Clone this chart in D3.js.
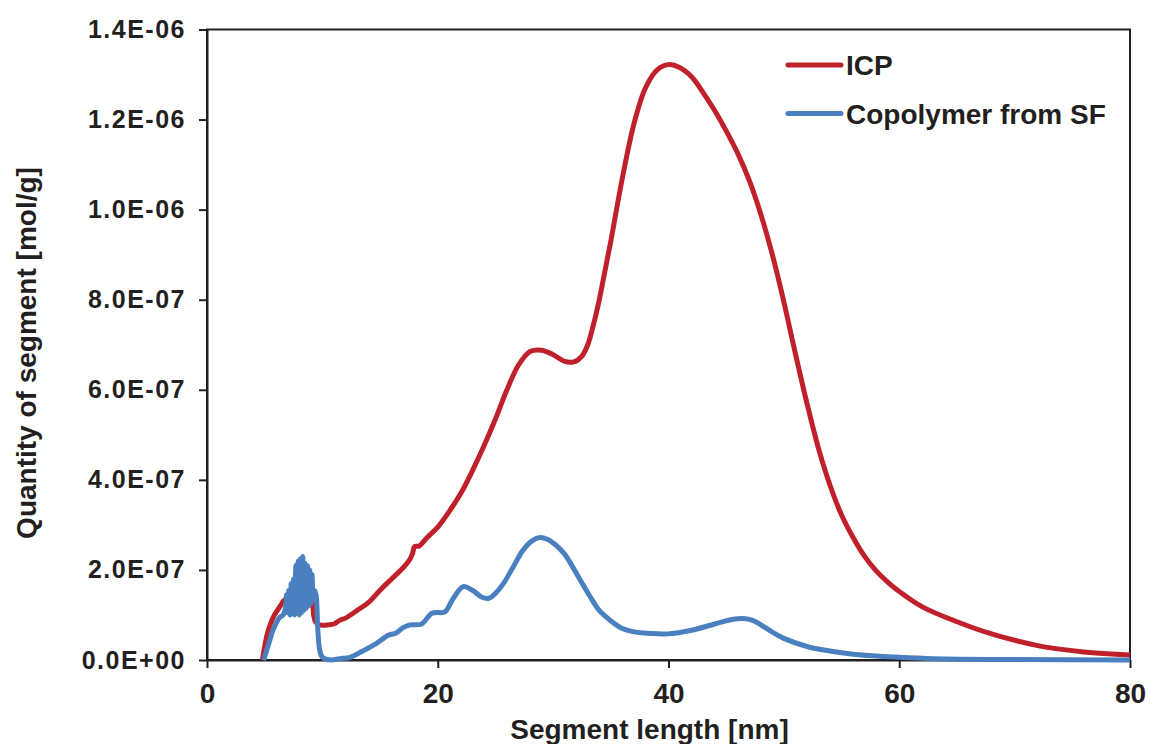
<!DOCTYPE html>
<html>
<head>
<meta charset="utf-8">
<script src="https://cdn.jsdelivr.net/npm/d3@7"></script>
<style>
  body { margin: 0; background: #fff; }
  text { font-family: "Liberation Sans", Arial, sans-serif; font-weight: bold; fill: #231f20; }
</style>
</head>
<body>
<script>
// Values, y in units of 1E-07 mol/g
const UNIT = 1e-7;

const icpLength = [4.8, 5.0, 5.2, 5.5, 5.8, 6.1, 6.4, 6.6, 6.8, 7.0, 7.2, 7.4, 7.6, 7.8, 8.0, 8.2, 8.4, 8.6, 8.8, 9.0, 9.1, 9.25, 9.4, 9.7,
  10.0, 10.5, 11.0, 11.5, 12.0, 12.5, 13.0, 14.0, 15.0, 16.0, 17.0, 17.5, 17.8, 18.0, 18.4, 19.0, 20.0, 21.0, 22.0, 23.0, 24.0,
  25.0, 26.0, 27.0, 28.0, 29.0, 30.0, 31.0, 31.8, 32.5, 33.0, 33.5, 34.0, 34.5, 35.0, 36.0, 37.0, 38.0, 39.0, 40.0, 41.0, 42.0,
  43.0, 44.0, 45.0, 46.0, 47.0, 48.0, 49.0, 50.0, 51.0, 52.0, 53.0, 54.0, 55.0, 56.0, 57.0, 58.0, 59.0, 60.0, 62.0, 65.0, 68.0,
  72.0, 76.0, 80.0];
const icpQty = [0, 0.3, 0.55, 0.8, 0.98, 1.1, 1.22, 1.3, 1.35, 1.28, 1.42, 1.3, 1.45, 1.32, 1.48, 1.35, 1.45, 1.3, 1.42, 1.33, 1.38, 1.0, 0.85, 0.79,
  0.77, 0.78, 0.8, 0.88, 0.93, 1.01, 1.1, 1.28, 1.55, 1.8, 2.05, 2.2, 2.35, 2.52, 2.53, 2.7, 2.95, 3.3, 3.7, 4.2, 4.75,
  5.35, 6.0, 6.55, 6.85, 6.88, 6.78, 6.63, 6.62, 6.75, 7.0, 7.45, 8.0, 8.65, 9.3, 10.7, 11.9, 12.7, 13.1, 13.22, 13.15, 12.95,
  12.6, 12.2, 11.75, 11.25, 10.65, 9.9, 9.0, 7.95, 6.8, 5.7, 4.7, 3.88, 3.22, 2.72, 2.3, 1.98, 1.73, 1.52, 1.18, 0.85, 0.58,
  0.32, 0.18, 0.11];

const sfLength = [4.9, 5.1, 5.4, 5.7, 6.0, 6.3, 6.6, 6.8, 6.9, 7.0, 7.1, 7.2, 7.3, 7.4, 7.5, 7.6, 7.7, 7.8, 7.9, 8.0, 8.1, 8.2, 8.3, 8.4,
  8.5, 8.6, 8.7, 8.8, 8.9, 9.0, 9.1, 9.2, 9.3, 9.45, 9.6, 9.75, 9.95, 10.3, 10.8, 11.5, 12.4, 13.5, 14.7, 15.3, 15.7, 16.4, 17.0,
  17.6, 18.6, 19.5, 20.6, 21.3, 22.2, 23.0, 23.8, 24.4, 25.0, 25.7, 26.5, 27.4, 28.2, 28.86, 29.5, 30.2, 31.0, 31.5, 32.3, 33.2,
  34.0, 34.9, 36.0, 36.9, 38.4, 40.0, 42.0, 44.0, 45.5, 46.5, 47.3, 48.0, 49.0, 50.0, 52.0, 54.0, 56.0, 58.0, 60.0, 63.0, 70.0, 80.0];
const sfQty = [0, 0.15, 0.4, 0.65, 0.82, 0.95, 1.0, 1.15, 1.45, 1.05, 1.55, 1.0, 1.7, 1.05, 1.8, 1.0, 2.1, 1.05, 2.2, 1.0, 2.25, 1.05, 2.3, 1.1,
  2.15, 1.15, 2.1, 1.2, 2.0, 1.25, 1.9, 1.35, 1.55, 1.45, 0.7, 0.25, 0.08, 0.02, 0.0, 0.03, 0.06, 0.2, 0.37, 0.48, 0.55, 0.6, 0.72,
  0.78, 0.8, 1.04, 1.07, 1.35, 1.63, 1.55, 1.4, 1.37, 1.48, 1.7, 2.05, 2.44, 2.65, 2.72, 2.68, 2.56, 2.35, 2.15, 1.8, 1.41,
  1.1, 0.89, 0.7, 0.63, 0.59, 0.58, 0.66, 0.8, 0.9, 0.92, 0.88, 0.78, 0.62, 0.48, 0.3, 0.2, 0.13, 0.09, 0.06, 0.03, 0.01, 0.0];

const xTicks = [0, 20, 40, 60, 80];
const yTicks = [0, 2e-7, 4e-7, 6e-7, 8e-7, 1e-6, 1.2e-6, 1.4e-6];

const series = [
  { name: "ICP", color: "#c0202a", xs: icpLength, ys: icpQty },
  { name: "Copolymer from SF", color: "#4a80c0", xs: sfLength, ys: sfQty }
];

const width = 1150, height = 744;
const plotLeft = 207, plotRight = 1130, plotTop = 29.5, plotBottom = 660;

const svg = d3.select("body").append("svg")
  .attr("width", width)
  .attr("height", height);

const x = d3.scaleLinear().domain([0, 80]).range([plotLeft, plotRight]);
const y = d3.scaleLinear().domain([0, 1.4e-6]).range([plotBottom, plotTop]);

// Excel-style scientific labels, e.g. 1.4E-06
function sci(d) {
  if (d === 0) return "0.0E+00";
  const e = Math.floor(Math.log10(d) + 1e-9);
  const m = d / Math.pow(10, e);
  const s = e < 0 ? "-" : "+";
  return m.toFixed(1) + "E" + s + String(Math.abs(e)).padStart(2, "0");
}

// plot box
svg.append("rect")
  .attr("x", plotLeft).attr("y", plotTop)
  .attr("width", plotRight - plotLeft).attr("height", plotBottom - plotTop)
  .attr("fill", "none").attr("stroke", "#231f20").attr("stroke-width", 2);

const xAxis = svg.append("g")
  .attr("transform", `translate(0,${plotBottom})`)
  .call(d3.axisBottom(x).tickValues(xTicks).tickSize(8).tickSizeOuter(0).tickPadding(15));

const yAxis = svg.append("g")
  .attr("transform", `translate(${plotLeft},0)`)
  .call(d3.axisLeft(y).tickValues(yTicks).tickFormat(sci).tickSize(8).tickSizeOuter(0).tickPadding(13));

[xAxis, yAxis].forEach(a => {
  a.select(".domain").attr("stroke", "#231f20").attr("stroke-width", 2);
  a.selectAll(".tick line").attr("stroke", "#231f20").attr("stroke-width", 2);
});
xAxis.selectAll(".tick text").attr("font-size", 28).attr("fill", "#231f20");
yAxis.selectAll(".tick text").attr("font-size", 25).attr("letter-spacing", "1.5px").attr("fill", "#231f20");

// axis titles
svg.append("text")
  .attr("x", (plotLeft + plotRight) / 2 - 19).attr("y", 739)
  .attr("text-anchor", "middle").attr("font-size", 28)
  .text("Segment length [nm]");

svg.append("text")
  .attr("transform", "translate(36,353) rotate(-90)")
  .attr("text-anchor", "middle").attr("font-size", 28)
  .text("Quantity of segment [mol/g]");

// curves
const line = d3.line()
  .x(d => x(d[0]))
  .y(d => y(d[1] * UNIT))
  .curve(d3.curveCatmullRom.alpha(0.5));

series.forEach(s => {
  svg.append("path")
    .datum(d3.zip(s.xs, s.ys))
    .attr("d", line)
    .attr("fill", "none")
    .attr("stroke", s.color)
    .attr("stroke-width", 5)
    .attr("stroke-linejoin", "round");
});

// legend
const legend = svg.append("g");
series.forEach((s, i) => {
  const ly = 65 + i * 48.5;
  legend.append("line")
    .attr("x1", 788).attr("x2", 841)
    .attr("y1", ly).attr("y2", ly)
    .attr("stroke", s.color).attr("stroke-width", 5).attr("stroke-linecap", "round");
  legend.append("text")
    .attr("x", 846).attr("y", ly + 10)
    .attr("font-size", 28)
    .text(s.name);
});
</script>
</body>
</html>
